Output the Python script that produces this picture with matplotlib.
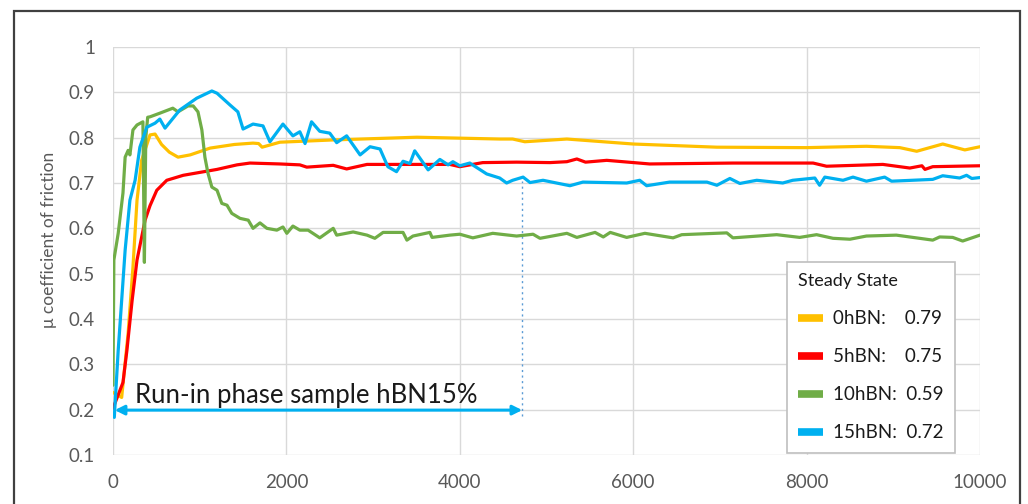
import matplotlib
matplotlib.use("Agg")
import matplotlib.pyplot as plt
from matplotlib.lines import Line2D
from matplotlib.patches import Rectangle
from matplotlib.ticker import FuncFormatter, MultipleLocator

plt.rcParams['font.family'] = ['Lato', 'DejaVu Sans']

# ---------------- data ----------------
x_0hbn = [0, 100, 175, 230, 277, 330, 427, 485, 560, 650, 750, 890, 1120, 1400, 1615, 1680, 1720,
          1925, 2540, 3505, 4460, 4610, 4750, 5235, 6000, 6965, 8000, 8690, 9075, 9270, 9570, 9825, 10000]
y_0hbn = [0.238, 0.227, 0.37, 0.514, 0.662, 0.75, 0.806, 0.808, 0.785, 0.768, 0.757, 0.762, 0.777, 0.785,
          0.788, 0.787, 0.779, 0.790, 0.795, 0.801, 0.797, 0.797, 0.791, 0.797, 0.786, 0.779, 0.778, 0.781,
          0.778, 0.770, 0.786, 0.773, 0.780]

x_5hbn = [0, 115, 160, 220, 277, 370, 427, 505, 620, 810, 1200, 1430, 1580, 1925, 2155, 2235, 2540, 2695,
          2930, 3885, 4000, 4265, 4655, 5040, 5235, 5350, 5450, 5695, 6190, 7150, 8075, 8230, 8880, 9190,
          9330, 9365, 9455, 10000]
y_5hbn = [0.203, 0.260, 0.33, 0.44, 0.53, 0.618, 0.65, 0.684, 0.706, 0.717, 0.730, 0.740, 0.744, 0.742,
          0.740, 0.735, 0.739, 0.731, 0.741, 0.741, 0.736, 0.745, 0.746, 0.745, 0.747, 0.753, 0.746, 0.750,
          0.742, 0.744, 0.744, 0.737, 0.741, 0.733, 0.738, 0.730, 0.736, 0.738]

x_10hbn = [0, 10, 60, 115, 140, 175, 195, 230, 277, 345, 362, 378, 400, 427, 540, 690, 750, 865, 925, 980,
           1025, 1060, 1095, 1140, 1200, 1255, 1315, 1370, 1465, 1560, 1615, 1695, 1775, 1890, 1960, 2005,
           2075, 2155, 2250, 2385, 2540, 2580, 2770, 2930, 3020, 3115, 3345, 3390, 3460, 3655, 3680, 3885,
           4000, 4150, 4380, 4655, 4845, 4925, 5235, 5350, 5560, 5655, 5735, 5925, 6135, 6460, 6560, 7080,
           7150, 7655, 7920, 8115, 8305, 8500, 8690, 9035, 9455, 9535, 9685, 9800, 10000]
y_10hbn = [0.254, 0.53, 0.589, 0.678, 0.757, 0.772, 0.762, 0.817, 0.828, 0.835, 0.525, 0.80, 0.845, 0.846,
           0.854, 0.865, 0.857, 0.870, 0.870, 0.857, 0.817, 0.757, 0.722, 0.691, 0.684, 0.655, 0.651, 0.633,
           0.622, 0.618, 0.600, 0.612, 0.600, 0.596, 0.603, 0.589, 0.605, 0.596, 0.596, 0.579, 0.600, 0.585,
           0.592, 0.585, 0.578, 0.591, 0.591, 0.574, 0.583, 0.591, 0.580, 0.585, 0.587, 0.579, 0.589, 0.583,
           0.587, 0.578, 0.589, 0.580, 0.591, 0.581, 0.591, 0.580, 0.589, 0.579, 0.586, 0.590, 0.579, 0.586,
           0.580, 0.586, 0.578, 0.576, 0.583, 0.585, 0.574, 0.581, 0.580, 0.572, 0.585]

x_15hbn = [15, 60, 100, 140, 195, 255, 310, 390, 485, 540, 600, 770, 965, 1140, 1200, 1350, 1440, 1500,
           1615, 1730, 1810, 1960, 2075, 2155, 2215, 2290, 2385, 2500, 2580, 2695, 2850, 2965, 3080, 3170,
           3270, 3345, 3425, 3480, 3635, 3770, 3865, 3920, 4000, 4115, 4310, 4460, 4540, 4610, 4730, 4810,
           4960, 5270, 5420, 5925, 6075, 6155, 6420, 6850, 6965, 7115, 7230, 7425, 7725, 7840, 8095, 8150,
           8210, 8420, 8535, 8690, 8900, 8980, 9455, 9570, 9765, 9845, 9905, 10000]
y_15hbn = [0.183, 0.331, 0.441, 0.552, 0.662, 0.706, 0.779, 0.823, 0.832, 0.841, 0.821, 0.861, 0.887, 0.903,
           0.898, 0.872, 0.857, 0.819, 0.830, 0.826, 0.791, 0.830, 0.804, 0.813, 0.787, 0.835, 0.814, 0.810,
           0.789, 0.804, 0.762, 0.780, 0.775, 0.736, 0.725, 0.748, 0.743, 0.771, 0.729, 0.752, 0.740, 0.747,
           0.738, 0.744, 0.720, 0.711, 0.700, 0.706, 0.713, 0.701, 0.706, 0.694, 0.702, 0.700, 0.706, 0.694,
           0.702, 0.702, 0.695, 0.710, 0.699, 0.706, 0.700, 0.706, 0.711, 0.695, 0.713, 0.706, 0.713, 0.704,
           0.713, 0.704, 0.708, 0.716, 0.711, 0.717, 0.710, 0.712]

series_names = ["0hBN", "5hBN", "10hBN", "15hBN"]
steady_values = ["0.79", "0.75", "0.59", "0.72"]
colors = ["#FFC000", "#FF0000", "#70AD47", "#00B0F0"]

runin_end = 4720
runin_label = "Run-in phase sample hBN15%"
ylabel = "\u03bc coefficient of friction"
legend_title = "Steady State"

# ---------------- figure ----------------
fig = plt.figure(figsize=(10.28, 5.04), dpi=100)
ax = fig.add_axes([113 / 1028, 49 / 504, 867 / 1028, 408 / 504])

xs = [x_0hbn, x_5hbn, x_10hbn, x_15hbn]
ys = [y_0hbn, y_5hbn, y_10hbn, y_15hbn]
handles = []
labels = []
for xv, yv, c, n, v in zip(xs, ys, colors, series_names, steady_values):
    ax.plot(xv, yv, color=c, lw=2.3, solid_joinstyle='round', solid_capstyle='round', zorder=3)
    handles.append(Line2D([], [], color=c, lw=5.5, solid_capstyle='butt'))
    gap = " " * (2 if len(n) == 5 else 4)
    labels.append(f"{n}:{gap}{v}")

ax.set_xlim(0, 10000)
ax.set_ylim(0.1, 1.0)
ax.xaxis.set_major_locator(MultipleLocator(2000))
ax.yaxis.set_major_locator(MultipleLocator(0.1))
ax.yaxis.set_major_formatter(FuncFormatter(lambda v, p: "1" if abs(v - 1) < 1e-9 else f"{v:.1f}"))
ax.xaxis.set_major_formatter(FuncFormatter(lambda v, p: f"{int(round(v))}"))
ax.grid(True, color="#D9D9D9", lw=1.0)
ax.set_axisbelow(True)
for s in ax.spines.values():
    s.set_visible(False)
ax.tick_params(length=0, labelsize=13.5, labelcolor="#595959")
ax.tick_params(axis='x', pad=14)
ax.tick_params(axis='y', pad=13)
ax.set_ylabel(ylabel, fontsize=12.5, color="#595959")
ax.yaxis.set_label_coords(-0.0646, 0.527)

# run-in annotation
ax.annotate("", xy=(runin_end, 0.199), xytext=(20, 0.199),
            arrowprops=dict(arrowstyle="<|-|>", color="#00B0F0", lw=2.2, mutation_scale=14,
                            shrinkA=0, shrinkB=0), zorder=4)
ax.text(254, 0.215, runin_label, fontsize=18.5, color="#1A1A1A", va='baseline', ha='left', zorder=5)
ax.plot([runin_end, runin_end], [0.186, 0.705], color="#5B9BD5", lw=1.0, ls=(0, (1.5, 2.5)), zorder=2)

# legend
leg = ax.legend(handles, labels, title=legend_title, loc='lower left',
                bbox_to_anchor=(0.777, 0.006), borderaxespad=0, fontsize=13.5, title_fontsize=13,
                frameon=True, fancybox=False, framealpha=1, edgecolor="#BFBFBF",
                handlelength=1.33, handletextpad=0.53, labelspacing=1.12, borderpad=0.6,
                alignment='left')
leg.get_frame().set_linewidth(1.2)
for t in leg.get_texts():
    t.set_color("#1A1A1A")
leg.get_title().set_color("#1A1A1A")
leg.set_zorder(6)

# outer frame
fig.patches.append(Rectangle((14 / 1028, -0.05), (1020 - 14) / 1028, 1.05 - 11 / 504,
                             transform=fig.transFigure, fill=False, edgecolor="#404040", lw=1.6,
                             clip_on=False))

fig.savefig("out.png", dpi=100)
